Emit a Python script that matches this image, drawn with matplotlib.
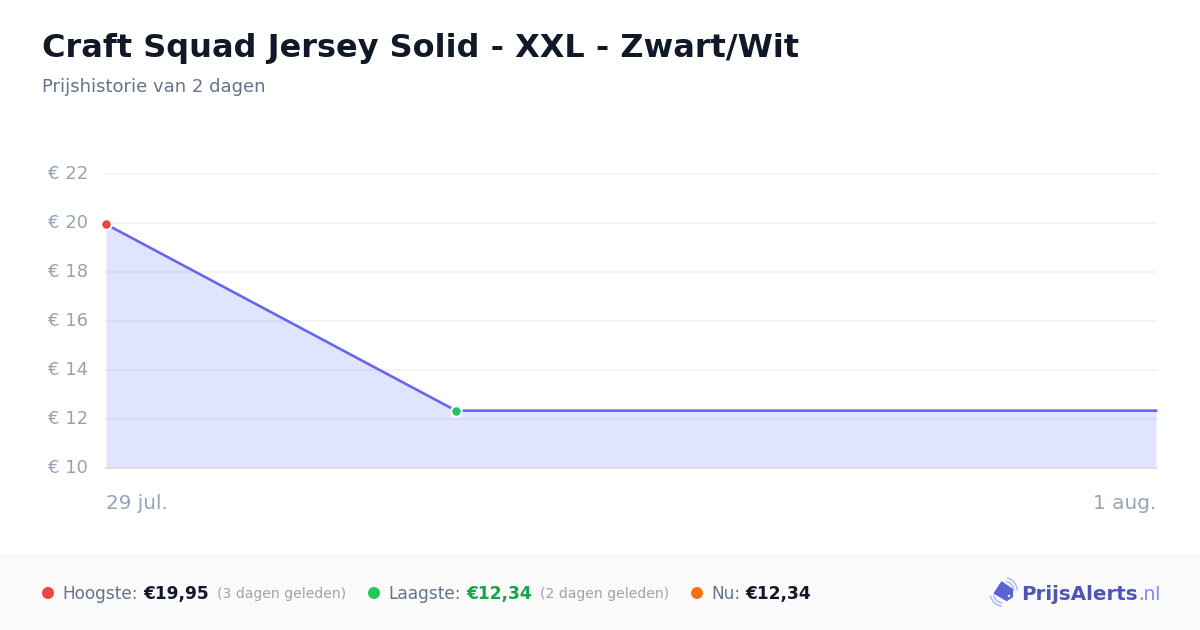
import matplotlib
matplotlib.use("Agg")
import matplotlib.pyplot as plt
from matplotlib.patches import Rectangle, Polygon, Arc, Circle

plt.rcParams['font.family'] = ['DejaVu Sans']

# Data
days = [0, 1, 3]
prices = [19.95, 12.34, 12.34]
y_ticks = [10, 12, 14, 16, 18, 20, 22]
y_labels = ['€ 10', '€ 12', '€ 14', '€ 16', '€ 18', '€ 20', '€ 22']
x_ticks = [0, 3]
x_labels = ['29 jul.', '1 aug.']
title = 'Craft Squad Jersey Solid - XXL - Zwart/Wit'
subtitle = 'Prijshistorie van 2 dagen'

W, H = 1200, 630
fig = plt.figure(figsize=(12, 6.3), dpi=100, facecolor='white')

def fx(x):
    return x / W

def fy(y):
    return 1 - y / H

def pt(px):
    return px * 72 / 100

# Page overlay in pixel coordinates (y down)
bg = fig.add_axes([0, 0, 1, 1], zorder=0)
bg.set_xlim(0, W)
bg.set_ylim(H, 0)
bg.axis('off')
bg.add_patch(Rectangle((0, 555), W, 75, fc='#fafafa', ec='none'))
bg.plot([0, W], [554.5, 554.5], color='#f3f4f6', lw=pt(1))

# Chart
ax = fig.add_axes([fx(106), fy(468), fx(1156 - 106), (468 - 174) / H], zorder=1)
ax.patch.set_alpha(0)
ax.set_xlim(0, 3)
ax.set_ylim(10, 22)
for s in ax.spines.values():
    s.set_visible(False)
ax.set_yticks(y_ticks, y_labels)
ax.set_xticks(x_ticks, x_labels)
ax.tick_params(length=0)
ax.tick_params(axis='y', labelsize=pt(18), labelcolor='#94a3b8', pad=pt(18))
ax.tick_params(axis='x', labelsize=pt(20), labelcolor='#94a3b8', pad=pt(25.7))
xl = ax.get_xticklabels()
xl[0].set_ha('left')
xl[1].set_ha('right')
for lab in ax.get_yticklabels():
    lab.set_va('center')
ax.grid(axis='y', color='#f3f4f6', lw=pt(2), zorder=0)
for gl in ax.get_ygridlines():
    gl.set_clip_on(False)
ax.set_axisbelow(True)
ax.fill_between(days, prices, 10, color=(100 / 255, 120 / 255, 1.0), alpha=0.2, lw=0, zorder=1)
ax.plot([0, 3], [10, 10], color='#dcdde8', lw=pt(2), zorder=1.5, clip_on=False)
ax.plot(days, prices, color='#6366f1', lw=pt(2.6), zorder=2, clip_on=False, solid_capstyle='projecting')
ax.scatter(days[0], prices[0], s=pt(10.5) ** 2, color='#ef4444', edgecolor='white', lw=pt(2), zorder=3, clip_on=False)
ax.scatter(days[1], prices[1], s=pt(10.5) ** 2, color='#22c55e', edgecolor='white', lw=pt(2), zorder=3, clip_on=False)

# Headings
bg.text(42, 48, title, fontsize=pt(32), fontweight='bold', color='#111827', va='center', ha='left')
bg.text(42, 87, subtitle, fontsize=pt(18), color='#64748b', va='center', ha='left')

# Footer
base = 599
bg.add_patch(Circle((48, 593), 6, fc='#ef4444', ec='none'))
bg.text(62, base, 'Hoogste:', fontsize=pt(17), color='#64748b', va='baseline')
bg.text(143, base, '€19,95', fontsize=pt(17), fontweight='bold', color='#111827', va='baseline')
bg.text(217, base - 1, '(3 dagen geleden)', fontsize=pt(14), color='#9ca3af', va='baseline')
bg.add_patch(Circle((374, 593), 6, fc='#22c55e', ec='none'))
bg.text(388, base, 'Laagste:', fontsize=pt(17), color='#64748b', va='baseline')
bg.text(466, base, '€12,34', fontsize=pt(17), fontweight='bold', color='#16a34a', va='baseline')
bg.text(540, base - 1, '(2 dagen geleden)', fontsize=pt(14), color='#9ca3af', va='baseline')
bg.add_patch(Circle((697, 593), 6, fc='#f97316', ec='none'))
bg.text(711, base, 'Nu:', fontsize=pt(17), color='#64748b', va='baseline')
bg.text(745, base, '€12,34', fontsize=pt(17), fontweight='bold', color='#111827', va='baseline')

# Logo
for r in (10.5, 14):
    bg.add_patch(Arc((1003.5, 591.5), 2 * r, 2 * r, theta1=-75, theta2=-5, color='#a5b4fc', lw=pt(1.4)))
for r in (9.5, 12.7):
    bg.add_patch(Arc((1003, 593.5), 2 * r, 2 * r, theta1=95, theta2=170, color='#a5b4fc', lw=pt(1.4)))
bg.add_patch(Polygon([(1001.7, 582), (1012.3, 589.3), (1012.3, 596.7), (1006.7, 600.5), (994.3, 593.3)],
                     closed=True, fc='#5b63d3', ec='#5b63d3', lw=1, joinstyle='round', zorder=3))
bg.add_patch(Circle((1009, 596), 1.2, fc='white', ec='none', zorder=4))
bg.text(1021, 600, 'PrijsAlerts', fontsize=pt(19.9), fontweight='bold', color='#4f55b8', va='baseline')
bg.text(1138, 600, '.nl', family='Inter', fontsize=pt(20), fontweight='normal', color='#818cf8', va='baseline')

fig.savefig('out.png', dpi=100, facecolor='white')
